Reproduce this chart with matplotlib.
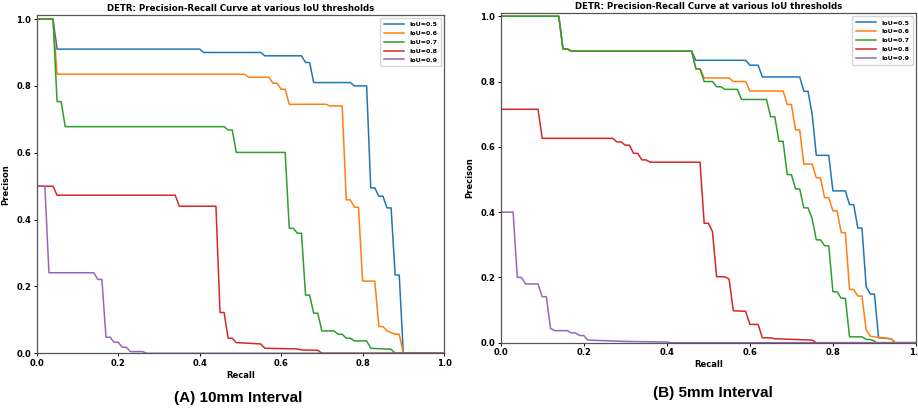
import matplotlib.pyplot as plt


# ============================================================
# DATA
# ============================================================

labels = ["IoU=0.5", "IoU=0.6", "IoU=0.7", "IoU=0.8", "IoU=0.9"]

# ---------------- (A) 10mm interval ----------------
ra05 = [0, 0.04, 0.05, 0.40, 0.41, 0.55, 0.56, 0.65, 0.66, 0.67, 0.68, 0.77, 0.78, 0.81,
        0.82, 0.83, 0.84, 0.85, 0.86, 0.87, 0.88, 0.89, 0.90, 1.0]
pa05 = [1.0, 1.0, 0.91, 0.91, 0.90, 0.90, 0.89, 0.89, 0.87, 0.87, 0.81, 0.81, 0.80, 0.80,
        0.495, 0.495, 0.47, 0.47, 0.435, 0.435, 0.234, 0.234, 0.0, 0.0]

ra06 = [0, 0.04, 0.05, 0.51, 0.52, 0.57, 0.58, 0.59, 0.60, 0.61, 0.62, 0.71, 0.72, 0.75,
        0.76, 0.77, 0.78, 0.79, 0.80, 0.83, 0.84, 0.85, 0.86, 0.87, 0.88, 0.89, 0.90, 1.0]
pa06 = [1.0, 1.0, 0.835, 0.835, 0.826, 0.826, 0.808, 0.808, 0.79, 0.79, 0.745, 0.745, 0.74, 0.74,
        0.459, 0.459, 0.437, 0.437, 0.216, 0.216, 0.08, 0.08, 0.067, 0.062, 0.057, 0.057, 0.0, 0.0]

ra07 = [0, 0.04, 0.05, 0.06, 0.07, 0.46, 0.47, 0.48, 0.49, 0.61, 0.62, 0.63, 0.64, 0.65, 0.66,
        0.67, 0.68, 0.69, 0.70, 0.73, 0.74, 0.75, 0.76, 0.77, 0.78, 0.81, 0.82, 0.87, 0.88, 1.0]
pa07 = [1.0, 1.0, 0.753, 0.753, 0.678, 0.678, 0.668, 0.668, 0.601, 0.601, 0.374, 0.374, 0.359,
        0.359, 0.174, 0.174, 0.12, 0.12, 0.067, 0.067, 0.057, 0.057, 0.045, 0.045, 0.037, 0.037,
        0.015, 0.012, 0.0, 0.0]

ra08 = [0, 0.04, 0.05, 0.34, 0.35, 0.44, 0.45, 0.46, 0.47, 0.48, 0.49, 0.55, 0.56, 0.64, 0.65,
        0.69, 0.70, 1.0]
pa08 = [0.5, 0.5, 0.473, 0.473, 0.44, 0.44, 0.122, 0.122, 0.045, 0.045, 0.032, 0.028, 0.015,
        0.013, 0.01, 0.009, 0.0, 0.0]

ra09 = [0, 0.02, 0.03, 0.14, 0.15, 0.16, 0.17, 0.18, 0.19, 0.20, 0.21, 0.22, 0.23, 0.26, 0.27, 1.0]
pa09 = [0.5, 0.5, 0.241, 0.241, 0.221, 0.221, 0.048, 0.048, 0.033, 0.033, 0.018, 0.018, 0.005,
        0.005, 0.0, 0.0]

# ---------------- (B) 5mm interval ----------------
rb05 = [0, 0.14, 0.15, 0.16, 0.17, 0.46, 0.47, 0.59, 0.60, 0.62, 0.63, 0.72, 0.73, 0.74, 0.75,
        0.76, 0.79, 0.80, 0.83, 0.84, 0.85, 0.86, 0.87, 0.88, 0.89, 0.90, 0.91, 0.94, 0.95, 1.0]
pb05 = [1.0, 1.0, 0.90, 0.90, 0.893, 0.893, 0.865, 0.865, 0.85, 0.85, 0.814, 0.814, 0.77, 0.77,
        0.70, 0.574, 0.574, 0.465, 0.465, 0.423, 0.423, 0.351, 0.351, 0.172, 0.149, 0.149, 0.015,
        0.012, 0.0, 0.0]

rb06 = [0, 0.14, 0.15, 0.16, 0.17, 0.46, 0.47, 0.48, 0.49, 0.55, 0.56, 0.59, 0.60, 0.68, 0.69,
        0.70, 0.71, 0.72, 0.73, 0.75, 0.76, 0.77, 0.78, 0.79, 0.80, 0.81, 0.82, 0.83, 0.84, 0.85,
        0.86, 0.87, 0.88, 0.89, 0.90, 0.94, 0.95, 1.0]
pb06 = [1.0, 1.0, 0.90, 0.90, 0.893, 0.893, 0.839, 0.839, 0.811, 0.811, 0.80, 0.80, 0.771, 0.771,
        0.73, 0.73, 0.652, 0.652, 0.547, 0.547, 0.505, 0.505, 0.444, 0.444, 0.404, 0.404, 0.337,
        0.337, 0.163, 0.163, 0.143, 0.143, 0.039, 0.02, 0.018, 0.012, 0.0, 0.0]

rb07 = [0, 0.14, 0.15, 0.16, 0.17, 0.46, 0.47, 0.48, 0.49, 0.51, 0.52, 0.53, 0.54, 0.57, 0.58,
        0.64, 0.65, 0.66, 0.67, 0.68, 0.69, 0.70, 0.71, 0.72, 0.73, 0.74, 0.75, 0.76, 0.77, 0.78,
        0.79, 0.80, 0.81, 0.82, 0.83, 0.84, 0.87, 0.88, 0.89, 0.90, 0.905, 1.0]
pb07 = [1.0, 1.0, 0.90, 0.90, 0.893, 0.893, 0.839, 0.839, 0.80, 0.80, 0.784, 0.784, 0.776, 0.776,
        0.745, 0.745, 0.692, 0.692, 0.617, 0.617, 0.515, 0.515, 0.471, 0.471, 0.413, 0.413, 0.38,
        0.315, 0.315, 0.297, 0.297, 0.156, 0.156, 0.136, 0.136, 0.018, 0.018, 0.01, 0.01, 0.005,
        0.0, 0.0]

rb08 = [0, 0.09, 0.10, 0.27, 0.28, 0.29, 0.30, 0.31, 0.32, 0.33, 0.34, 0.35, 0.36, 0.48, 0.49,
        0.50, 0.51, 0.52, 0.54, 0.55, 0.56, 0.59, 0.60, 0.62, 0.63, 0.65, 0.66, 0.75, 0.76, 1.0]
pb08 = [0.715, 0.715, 0.626, 0.626, 0.615, 0.615, 0.605, 0.605, 0.58, 0.58, 0.56, 0.56, 0.553,
        0.553, 0.366, 0.366, 0.34, 0.202, 0.202, 0.195, 0.098, 0.096, 0.056, 0.056, 0.015, 0.015,
        0.012, 0.008, 0.0, 0.0]

rb09 = [0, 0.03, 0.04, 0.05, 0.06, 0.09, 0.10, 0.11, 0.12, 0.13, 0.16, 0.17, 0.18, 0.19, 0.20,
        0.21, 0.30, 0.40, 0.41, 1.0]
pb09 = [0.40, 0.40, 0.20, 0.20, 0.18, 0.18, 0.141, 0.141, 0.044, 0.037, 0.037, 0.03, 0.03, 0.022,
        0.022, 0.008, 0.004, 0.002, 0.0, 0.0]


# ============================================================
# FIGURE
# ============================================================

plt.rcParams["font.family"] = ["DejaVu Sans"]
plt.rcParams["font.weight"] = "bold"

fig = plt.figure(figsize=(9.18, 4.12), dpi=100)

panels = [
    (fig.add_axes([0.040, 0.1425, 0.4437, 0.821]),
     [(ra05, pa05), (ra06, pa06), (ra07, pa07), (ra08, pa08), (ra09, pa09)],
     1.012, "(A) 10mm Interval", 0.259, 0.034),
    (fig.add_axes([0.5454, 0.1682, 0.4524, 0.7995]),
     [(rb05, pb05), (rb06, pb06), (rb07, pb07), (rb08, pb08), (rb09, pb09)],
     1.009, "(B) 5mm Interval", 0.777, 0.046),
]

for ax, curves, ytop, caption, cx, cy in panels:

    for (rec, prec), lab in zip(curves, labels):
        ax.plot(rec, prec, lw=1.1, label=lab)

    ax.set_xlim(0, 1.0)
    ax.set_ylim(0, ytop)

    ax.set_title(
        "DETR: Precision-Recall Curve at various IoU thresholds",
        fontsize=6.2, fontweight="bold", pad=3
    )
    ax.set_xlabel("Recall", fontsize=6, fontweight="bold", labelpad=2)
    ax.set_ylabel("Precison", fontsize=6, fontweight="bold", labelpad=4)

    ax.tick_params(labelsize=6, length=2.5, width=0.7, pad=1.5)
    for t in ax.get_xticklabels() + ax.get_yticklabels():
        t.set_fontweight("bold")

    for sp in ax.spines.values():
        sp.set_color("#555555")
        sp.set_linewidth(0.9)

    ax.legend(
        loc="upper right",
        prop={"size": 4.5, "weight": "bold"},
        handlelength=3.2,
        borderpad=0.6,
        labelspacing=0.55,
    )

    fig.text(
        cx, cy, caption,
        ha="center", va="center",
        fontsize=11, fontweight="bold",
        family="Liberation Sans"
    )

fig.savefig("out.png", dpi=100)
